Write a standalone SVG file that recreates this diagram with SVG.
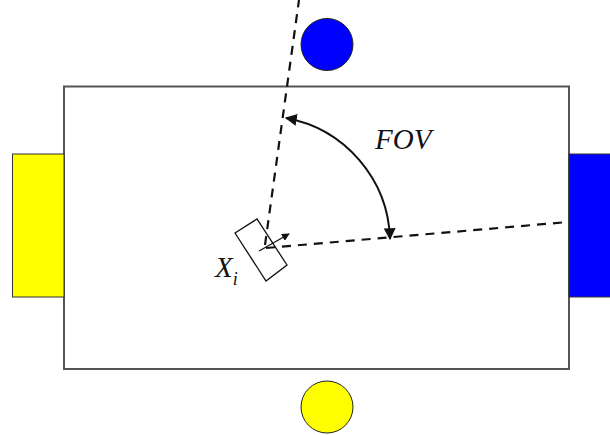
<svg xmlns="http://www.w3.org/2000/svg" width="610" height="435" viewBox="0 0 610 435">
<defs>
<style>
.dash{fill:none;stroke:#111;stroke-width:2.2;stroke-dasharray:9,7}
.lbl{font-family:"Liberation Serif",serif;font-style:italic;fill:#111}
</style>
<marker id="ah" viewBox="0 0 10 10" refX="9" refY="5" markerWidth="6" markerHeight="6" orient="auto-start-reverse" markerUnits="strokeWidth">
<path d="M0,0 L10,5 L0,10 z" fill="#111"/>
</marker>
<marker id="ahs" viewBox="0 0 10 10" refX="9" refY="5" markerWidth="6" markerHeight="6" orient="auto" markerUnits="strokeWidth">
<path d="M0,0 L10,5 L0,10 z" fill="#111"/>
</marker>
</defs>
<rect width="610" height="435" fill="#fff"/>
<g id="field">
<rect x="64" y="86.5" width="505" height="282.5" fill="#fff" stroke="#555" stroke-width="2"/>
</g>
<g id="yellow-goal">
<rect x="12.5" y="154" width="51.5" height="143" fill="#ffff00" stroke="#333" stroke-width="1"/>
</g>
<g id="blue-goal">
<rect x="569" y="154" width="42" height="143" fill="#0000ff" stroke="#333" stroke-width="1"/>
</g>
<g id="blue-ball">
<circle cx="327" cy="44.5" r="26" fill="#0000ff" stroke="#222" stroke-width="1"/>
</g>
<g id="yellow-ball">
<circle cx="327" cy="407" r="26" fill="#ffff00" stroke="#222" stroke-width="1"/>
</g>
<g id="robot">
<polygon points="235,233 257,219 287,265 266,281" fill="#fff" stroke="#111" stroke-width="1.3"/>
</g>
<g id="connectors">
<line class="dash" x1="265" y1="245" x2="299" y2="0"/>
<line class="dash" x1="266" y1="248" x2="568" y2="222"/>
<line x1="259" y1="251" x2="289" y2="234" stroke="#111" stroke-width="1.3" marker-end="url(#ahs)"/>
<path d="M 286,118 A 127 127 0 0 1 390,239" fill="none" stroke="#111" stroke-width="2" marker-start="url(#ah)" marker-end="url(#ah)"/>
</g>
<g id="labels">
<text class="lbl" x="375" y="149" font-size="29">FOV</text>
<text class="lbl" x="215" y="277" font-size="29">X<tspan font-size="18" dy="8">i</tspan></text>
</g>
</svg>
